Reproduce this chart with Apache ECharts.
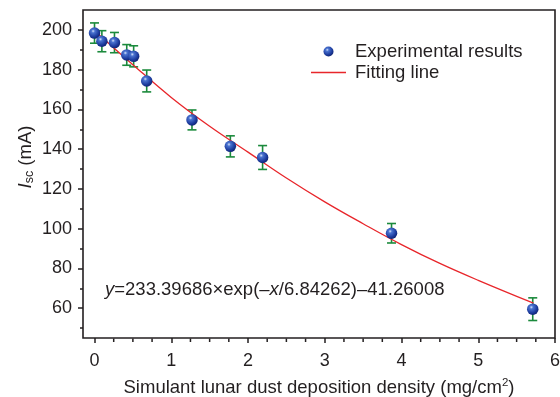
<!DOCTYPE html>
<html>
<head>
<meta charset="utf-8">
<script src="https://cdn.jsdelivr.net/npm/echarts@6/dist/echarts.min.js"></script>
<style>
  html, body { margin: 0; padding: 0; background: #fff; }
  #chart { width: 560px; height: 397px; }
</style>
</head>
<body>
<div id="chart"></div>
<script>
// measured points (deposition density, Isc) and error half-widths
const xExp = [0.0, 0.096, 0.26, 0.42, 0.51, 0.68, 1.27, 1.77, 2.19, 3.87, 5.71];
const yExp = [198.4, 194.3, 193.6, 187.4, 186.7, 174.3, 154.7, 141.4, 135.8, 97.7, 59.5];
const errExp = [5.1, 5.3, 5.1, 5.2, 5.3, 5.5, 5.0, 5.3, 6.0, 4.9, 5.7];

// fitting curve
const xFit = [0, 0.5, 1, 1.5, 2, 2.5, 3, 3.5, 4, 4.5, 5, 5.72];
const yFit = [199.6, 182.5, 166, 151.5, 138.5, 125.5, 113.5, 102.5, 92, 82.5, 74, 62.5];

// tick labels
const xTicks = [0, 1, 2, 3, 4, 5, 6];
const xMinor = [0.25, 0.5, 0.75, 1.25, 1.5, 1.75, 2.25, 2.5, 2.75, 3.25, 3.5, 3.75, 4.25, 4.5, 4.75, 5.25, 5.5, 5.75];
const yTicks = [60, 80, 100, 120, 140, 160, 180, 200];
const yMinor = [50, 70, 90, 110, 130, 150, 170, 190];

const FONT = 'Liberation Sans, Arial, Helvetica, sans-serif';
const INK = '#231f20';
const FS = 18.5;
const Y_MIN = 45;

let dom = document.getElementById('chart');
let myChart = echarts.init(dom);

let ballColor = {
    type: 'radial', x: 0.38, y: 0.33, r: 0.7,
    colorStops: [
        {offset: 0, color: '#d6e2fb'},
        {offset: 0.22, color: '#4a73d0'},
        {offset: 0.7, color: '#1d3c9e'},
        {offset: 1, color: '#0e2270'}
    ]
};

let gridBox = {left: 83, right: 5, top: 10, bottom: 59, outerBoundsMode: 'none', containLabel: false};

let xBase = {
    type: 'value', min: -0.15, max: 6,
    axisLine: {show: false, onZero: false},
    splitLine: {show: false}
};
let yBase = {
    type: 'value', min: Y_MIN, max: 210,
    axisLine: {show: false, onZero: false},
    splitLine: {show: false}
};

let option = {
    animation: false,
    grid: [
        Object.assign({show: true, borderColor: INK, borderWidth: 1.6}, gridBox),
        Object.assign({show: false}, gridBox)   // carries the y minor ticks
    ],
    xAxis: [
        Object.assign({}, xBase, {
            gridIndex: 0,
            position: 'bottom',
            axisTick: {customValues: xTicks, length: 5, lineStyle: {color: INK, width: 1.5}},
            axisLabel: {customValues: xTicks, margin: 14, color: INK, fontSize: 18, fontFamily: FONT},
            name: '{t|Simulant lunar dust deposition density (mg/cm}{sup|2}{t|)}',
            nameLocation: 'middle',
            nameGap: 39,
            nameTextStyle: {
                rich: {
                    t: {fontSize: FS, color: INK, fontFamily: FONT},
                    sup: {fontSize: 11.5, color: INK, fontFamily: FONT, padding: [0, 0, 9, 0]}
                }
            }
        }),
        Object.assign({}, xBase, {
            gridIndex: 1,
            position: 'bottom',
            axisTick: {show: false},
            axisLabel: {show: false}
        })
    ],
    yAxis: [
        Object.assign({}, yBase, {
            gridIndex: 0,
            position: 'left',
            axisTick: {customValues: yTicks, length: 5, lineStyle: {color: INK, width: 1.5}},
            axisLabel: {customValues: yTicks, margin: 11, color: INK, fontSize: 18, fontFamily: FONT}
        }),
        Object.assign({}, yBase, {
            gridIndex: 1,
            position: 'left',
            axisTick: {show: true, customValues: yMinor, length: 3, lineStyle: {color: INK, width: 1.5}},
            axisLabel: {show: true, customValues: yMinor, color: 'rgba(0,0,0,0)', fontSize: 8, formatter: ' '}
        })
    ],
    legend: {
        orient: 'vertical',
        left: 306, top: 37,
        itemWidth: 35, itemHeight: 10, itemGap: 2,
        textStyle: {fontSize: FS, lineHeight: 19, color: INK, fontFamily: FONT, padding: [0, 0, 0, 4]},
        data: [
            {name: 'Experimental results', icon: 'circle'},
            {name: 'Fitting line', icon: 'path://M0,0H35V1.3H0Z'}
        ]
    },
    graphic: [
        {
            type: 'text', left: 105, top: 280,
            style: {
                text: '{i|y}{n|=233.39686×exp(–}{i|x}{n|/6.84262)–41.26008}',
                rich: {
                    i: {fontSize: FS, fontStyle: 'italic', fill: INK, fontFamily: FONT},
                    n: {fontSize: FS, fill: INK, fontFamily: FONT}
                }
            }
        },
        {
            type: 'text', x: 26, y: 157, rotation: Math.PI / 2,
            style: {
                text: '{i|I}{s|sc}{n| (mA)}',
                align: 'center', verticalAlign: 'middle',
                rich: {
                    i: {fontSize: FS, fontStyle: 'italic', fill: INK, fontFamily: FONT},
                    s: {fontSize: 12.5, fill: INK, fontFamily: FONT, padding: [8, 0, 0, 0]},
                    n: {fontSize: FS, fill: INK, fontFamily: FONT}
                }
            }
        }
    ],
    series: [
        {
            // x minor ticks: x from the axis scale, drawn down from the bottom edge of the plot
            name: 'xMinorTicks',
            type: 'custom',
            silent: true,
            clip: false,
            z: 10,
            data: xMinor.map(v => [v, 100]),
            renderItem: function (params, api) {
                let px = api.coord([api.value(0), api.value(1)])[0];
                let bottom = params.coordSys.y + params.coordSys.height;
                return {
                    type: 'line',
                    z2: 10,
                    shape: {x1: px, y1: bottom + 0.5, x2: px, y2: bottom + 4},
                    style: {stroke: INK, lineWidth: 1.5}
                };
            }
        },
        {
            name: 'error',
            type: 'custom',
            z: 2,
            data: xExp.map((x, i) => [x, yExp[i] - errExp[i], yExp[i] + errExp[i]]),
            renderItem: function (params, api) {
                let lo = api.coord([api.value(0), api.value(1)]);
                let hi = api.coord([api.value(0), api.value(2)]);
                let w = 4.5;
                let st = {stroke: '#1b8a3c', lineWidth: 1.6};
                return {
                    type: 'group',
                    children: [
                        {type: 'line', shape: {x1: lo[0], y1: lo[1], x2: hi[0], y2: hi[1]}, style: st},
                        {type: 'line', shape: {x1: lo[0] - w, y1: lo[1], x2: lo[0] + w, y2: lo[1]}, style: st},
                        {type: 'line', shape: {x1: hi[0] - w, y1: hi[1], x2: hi[0] + w, y2: hi[1]}, style: st}
                    ]
                };
            }
        },
        {
            name: 'Fitting line',
            type: 'line',
            z: 3,
            symbol: 'none',
            smooth: 0.4,
            data: xFit.map((x, i) => [x, yFit[i]]),
            lineStyle: {color: '#e8262b', width: 1.3},
            itemStyle: {color: '#e8262b'}
        },
        {
            name: 'Experimental results',
            type: 'scatter',
            z: 4,
            symbolSize: 11.5,
            data: xExp.map((x, i) => [x, yExp[i]]),
            itemStyle: {color: ballColor, opacity: 1}
        }
    ]
};

myChart.setOption(option, true);
</script>
</body>
</html>
